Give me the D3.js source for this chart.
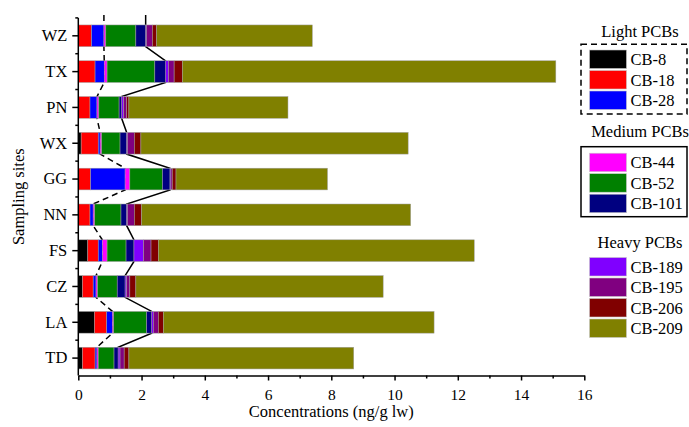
<!DOCTYPE html>
<html>
<head>
<meta charset="utf-8">
<script src="https://cdn.jsdelivr.net/npm/d3@7"></script>
<style>
  body { margin: 0; background: #fff; }
  svg, svg text { font-family: "Liberation Serif", "Times New Roman", serif; }
</style>
</head>
<body>
<div id="chart"></div>
<script>
// sampling sites, top to bottom
const sites = ['WZ', 'TX', 'PN', 'WX', 'GG', 'NN', 'FS', 'CZ', 'LA', 'TD'];

// concentrations (ng/g lw) per congener, same order as sites
const cb8   = [0,    0,    0,    0.09, 0,    0,    0.30, 0.13, 0.51, 0.13];
const cb18  = [0.42, 0.53, 0.37, 0.54, 0.39, 0.37, 0.33, 0.34, 0.39, 0.40];
const cb28  = [0.39, 0.29, 0.22, 0.06, 1.09, 0.10, 0.13, 0.09, 0.18, 0.06];
const cb44  = [0.06, 0.09, 0.06, 0.05, 0.15, 0.05, 0.15, 0.05, 0.04, 0.04];
const cb52  = [0.95, 1.51, 0.64, 0.58, 1.03, 0.83, 0.60, 0.62, 1.04, 0.50];
const cb101 = [0.31, 0.34, 0.08, 0.21, 0.24, 0.18, 0.25, 0.25, 0.16, 0.13];
const cb189 = [0.03, 0.09, 0.06, 0.03, 0.03, 0.03, 0.30, 0.05, 0.05, 0.06];
const cb195 = [0.18, 0.18, 0.10, 0.21, 0.04, 0.21, 0.24, 0.10, 0.16, 0.13];
const cb206 = [0.14, 0.26, 0.07, 0.21, 0.12, 0.23, 0.23, 0.19, 0.16, 0.15];
const cb209 = [4.92, 11.81, 5.03, 8.45, 4.79, 8.51, 9.99, 7.82, 8.56, 7.11];

const congeners = ['CB-8', 'CB-18', 'CB-28', 'CB-44', 'CB-52', 'CB-101', 'CB-189', 'CB-195', 'CB-206', 'CB-209'];
const colors = ['#000000', '#ff0000', '#0000ff', '#ff00ff', '#008000', '#000080', '#8000ff', '#800080', '#800000', '#808000'];
const xTicks = [0, 2, 4, 6, 8, 10, 12, 14, 16];

const groups = [
  { title: 'Light PCBs', keys: ['CB-8', 'CB-18', 'CB-28'] },
  { title: 'Medium PCBs', keys: ['CB-44', 'CB-52', 'CB-101'] },
  { title: 'Heavy PCBs', keys: ['CB-189', 'CB-195', 'CB-206', 'CB-209'] }
];

const series = [cb8, cb18, cb28, cb44, cb52, cb101, cb189, cb195, cb206, cb209];
const rows = sites.map((s, i) => {
  let r = { site: s };
  congeners.forEach((c, j) => { r[c] = series[j][i]; });
  return r;
});

const width = 689, height = 427;
const svg = d3.select('#chart').append('svg')
  .attr('width', width)
  .attr('height', height);

const x = d3.scaleLinear().domain([0, 16]).range([78.3, 584.3]);
const y = d3.scaleBand().domain(sites).range([17.9, 376]).paddingInner(0.394).paddingOuter(0.197);
const color = d3.scaleOrdinal().domain(congeners).range(colors);

const stacked = d3.stack().keys(congeners)(rows);

// connecting lines (drawn behind bars): light = up to CB-28, medium = up to CB-101
const lineGen = d3.line();
function stepPoints(layer) {
  let pts = [];
  layer.forEach((d, i) => {
    const top = y(d.data.site), bot = top + y.bandwidth();
    pts.push([x(d[1]), i === 0 ? top - 10 : top]);
    pts.push([x(d[1]), bot]);
  });
  return pts;
}
svg.append('path')
  .attr('d', lineGen(stepPoints(stacked[2])))
  .attr('fill', 'none')
  .attr('stroke', '#000')
  .attr('stroke-width', 1.5)
  .attr('stroke-dasharray', '6,4');
svg.append('path')
  .attr('d', lineGen(stepPoints(stacked[5])))
  .attr('fill', 'none')
  .attr('stroke', '#000')
  .attr('stroke-width', 1.5);

// bars
svg.append('g')
  .selectAll('g')
  .data(stacked)
  .join('g')
  .attr('fill', d => color(d.key))
  .selectAll('rect')
  .data(d => d.filter(v => v[1] - v[0] > 0))
  .join('rect')
  .attr('x', d => x(d[0]))
  .attr('y', d => y(d.data.site))
  .attr('width', d => x(d[1]) - x(d[0]))
  .attr('height', y.bandwidth())
  .attr('stroke', '#a0a0a0')
  .attr('stroke-width', 0.5);

// x axis
const xAxisY = 375.5;
const xAxis = svg.append('g')
  .attr('transform', `translate(0,${xAxisY})`)
  .call(d3.axisBottom(x).tickValues(xTicks).tickSize(5).tickSizeOuter(0).tickFormat(d3.format('d')))
  .attr('font-family', null)
  .attr('font-size', null);
xAxis.select('.domain').attr('stroke-width', 1.5);
xAxis.selectAll('.tick line').attr('stroke-width', 1.5);
xAxis.selectAll('.tick text')
  .attr('font-size', 15.5)
  .attr('dy', null)
  .attr('y', 24.5);
svg.append('g')
  .attr('transform', `translate(0,${xAxisY})`)
  .call(d3.axisBottom(x).tickValues(d3.range(1, 16, 2)).tickSize(3).tickFormat(''))
  .call(g => g.select('.domain').remove())
  .selectAll('.tick line').attr('stroke-width', 1.5);

// y axis
const yAxis = svg.append('g')
  .attr('transform', `translate(${x(0)},0)`)
  .call(d3.axisLeft(y).tickSize(6).tickSizeOuter(0).tickPadding(5))
  .attr('font-family', null)
  .attr('font-size', null);
yAxis.select('.domain').attr('stroke-width', 1.5).attr('d', `M0,${y.range()[0]}V${xAxisY}`);
yAxis.selectAll('.tick line').attr('stroke-width', 1.5);
yAxis.selectAll('.tick text')
  .attr('font-size', 16.5)
  .attr('fill', '#000');
// minor ticks at band boundaries
const gap = (y.step() - y.bandwidth()) / 2;
yAxis.append('g')
  .selectAll('line')
  .data(sites)
  .join('line')
  .attr('x1', -3)
  .attr('x2', 0)
  .attr('y1', d => y(d) - gap)
  .attr('y2', d => y(d) - gap)
  .attr('stroke', '#000')
  .attr('stroke-width', 1.5);

// axis titles
svg.append('text')
  .attr('x', (x.range()[0] + x.range()[1]) / 2)
  .attr('y', 416.5)
  .attr('text-anchor', 'middle')
  .attr('font-size', 16.5)
  .text('Concentrations (ng/g lw)');
svg.append('text')
  .attr('transform', `translate(24,${(y.range()[0] + xAxisY) / 2}) rotate(-90)`)
  .attr('text-anchor', 'middle')
  .attr('font-size', 16.5)
  .text('Sampling sites');

// legend
const legendLayout = [
  { titleY: 36.7, firstY: 50, box: 'dashed', boxY: 44.3, boxH: 69.7 },
  { titleY: 137, firstY: 153.2, box: 'solid', boxY: 146.7, boxH: 70 },
  { titleY: 248.3, firstY: 257.5, box: null }
];
const legend = svg.append('g');
groups.forEach((grp, gi) => {
  const lay = legendLayout[gi];
  const g = legend.append('g');
  g.append('text')
    .attr('x', 640)
    .attr('y', lay.titleY)
    .attr('text-anchor', 'middle')
    .attr('font-size', 16.5)
    .text(grp.title);
  if (lay.box) {
    g.append('rect')
      .attr('x', 581)
      .attr('y', lay.boxY)
      .attr('width', 106)
      .attr('height', lay.boxH)
      .attr('fill', 'none')
      .attr('stroke', '#000')
      .attr('stroke-width', 1.5)
      .attr('stroke-dasharray', lay.box === 'dashed' ? '6,4' : null);
  }
  const items = g.selectAll('g.item')
    .data(grp.keys)
    .join('g')
    .attr('class', 'item')
    .attr('transform', (d, i) => `translate(589.5,${lay.firstY + i * 20.5})`);
  items.append('rect')
    .attr('width', 37)
    .attr('height', 18.5)
    .attr('fill', d => color(d))
    .attr('stroke', '#c8c8c8')
    .attr('stroke-width', 0.6);
  items.append('text')
    .attr('x', 41)
    .attr('y', 15)
    .attr('font-size', 16.5)
    .text(d => d);
});
</script>
</body>
</html>
